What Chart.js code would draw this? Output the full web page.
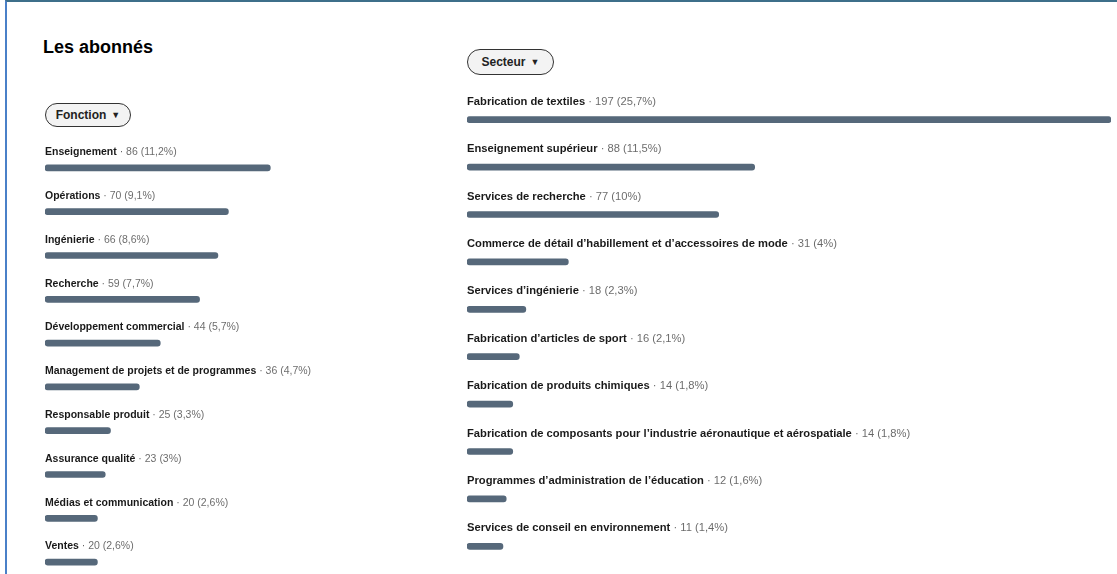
<!DOCTYPE html>
<html lang="fr">
<head>
<meta charset="utf-8">
<script src="https://cdn.jsdelivr.net/npm/chart.js@4"></script>
<style>
    html, body { margin: 0; padding: 0; background: #fff; overflow: hidden; }
    body { width: 1117px; height: 574px; position: relative; font-family: "Liberation Sans", Arial, sans-serif; }
    .cadre { position: absolute; left: 5px; top: 0; width: 1112px; height: 574px; border-left: 2px solid #4a80c8; border-top: 2px solid #3d6f8a; box-sizing: border-box; }
    .titre { position: absolute; left: 43px; top: 37px; font-size: 18px; font-weight: bold; color: #000; }
    .pilule { position: absolute; box-sizing: border-box; border: 1.5px solid #333; border-radius: 14px; background: #f3f3f3; font-weight: bold; color: #222; font-size: 12px; display: flex; align-items: center; justify-content: center; }
    .pilule span { font-size: 9px; margin-left: 5px; }
    canvas { position: absolute; }
</style>
</head>
<body>
<div class="cadre"></div>
<div class="titre">Les abonnés</div>
<div class="pilule" style="left:45px; top:103px; width:86px; height:24px;">Fonction<span>▼</span></div>
<div class="pilule" style="left:467px; top:49px; width:87px; height:26px;">Secteur<span>▼</span></div>
<canvas id="graficoFonction" width="393" height="464" style="left:45px; top:120px;"></canvas>
<canvas id="graficoSecteur" width="644" height="500" style="left:467px; top:70px;"></canvas>

<script>
// dados
const fonctions = ['Enseignement', 'Opérations', 'Ingénierie', 'Recherche', 'Développement commercial',
    'Management de projets et de programmes', 'Responsable produit', 'Assurance qualité',
    'Médias et communication', 'Ventes'];
const valeursFonction = [86, 70, 66, 59, 44, 36, 25, 23, 20, 20];
const pctFonction = ['11,2%', '9,1%', '8,6%', '7,7%', '5,7%', '4,7%', '3,3%', '3%', '2,6%', '2,6%'];

const secteurs = ['Fabrication de textiles', 'Enseignement supérieur', 'Services de recherche',
    'Commerce de détail d’habillement et d’accessoires de mode', 'Services d’ingénierie',
    'Fabrication d’articles de sport', 'Fabrication de produits chimiques',
    'Fabrication de composants pour l’industrie aéronautique et aérospatiale',
    'Programmes d’administration de l’éducation', 'Services de conseil en environnement'];
const valeursSecteur = [197, 88, 77, 31, 18, 16, 14, 14, 12, 11];
const pctSecteur = ['25,7%', '11,5%', '10%', '4%', '2,3%', '2,1%', '1,8%', '1,8%', '1,6%', '1,4%'];

const corBarra = '#56687a';

// escreve o nome + valor acima de cada barra
const rotulosPlugin = {
    id: 'rotulos',
    afterDatasetsDraw(chart, args, opts) {
        const ctx = chart.ctx;
        const meta = chart.getDatasetMeta(0);
        const x = chart.chartArea.left;
        ctx.save();
        ctx.textBaseline = 'middle';
        meta.data.forEach(function (barra, i) {
            const y = barra.y - opts.offset;
            const nome = chart.data.labels[i];
            ctx.font = `bold ${opts.size}px "Liberation Sans", Arial, sans-serif`;
            ctx.fillStyle = 'rgba(0,0,0,0.9)';
            ctx.fillText(nome, x, y);
            const w = ctx.measureText(nome).width;
            ctx.font = `${opts.size}px "Liberation Sans", Arial, sans-serif`;
            ctx.fillStyle = 'rgba(0,0,0,0.6)';
            ctx.fillText(` · ${chart.data.datasets[0].data[i]} (${opts.pct[i]})`, x + w, y);
        });
        ctx.restore();
    }
};

function criarGrafico(id, labels, valores, pct, max, padTopo, tamanho, offset) {
    const ctx = document.getElementById(id).getContext('2d');
    return new Chart(ctx, {
        type: 'bar',
        data: {
            labels: labels,
            datasets: [{
                data: valores,
                backgroundColor: corBarra,
                barThickness: 6,
                borderRadius: 3,
                borderSkipped: false
            }]
        },
        options: {
            indexAxis: 'y',
            responsive: false,
            animation: false,
            layout: { padding: { top: padTopo, left: 0, right: 0, bottom: 0 } },
            plugins: {
                legend: { display: false },
                tooltip: { enabled: false },
                rotulos: { pct: pct, size: tamanho, offset: offset }
            },
            scales: {
                x: { display: false, min: 0, max: max },
                y: { display: false }
            }
        },
        plugins: [rotulosPlugin]
    });
}

criarGrafico('graficoFonction', fonctions, valeursFonction, pctFonction, 150, 26, 10.5, 15.5);
criarGrafico('graficoSecteur', secteurs, valeursSecteur, pctSecteur, 197, 26, 11.2, 18);
</script>
</body>
</html>
